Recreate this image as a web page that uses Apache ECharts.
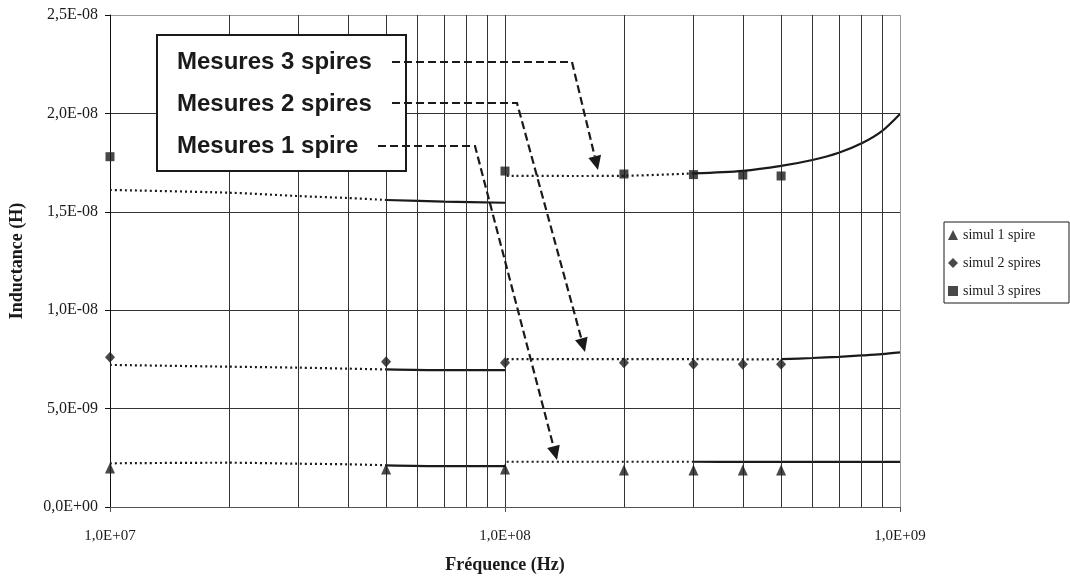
<!DOCTYPE html>
<html><head><meta charset="utf-8">
<script src="https://cdn.jsdelivr.net/npm/echarts/dist/echarts.min.js"></script>
<style>html,body{margin:0;padding:0;background:#fff}#c{width:1070px;height:586px}</style>
</head><body><div id="c"></div>
<script>
// ---- tick labels ----
const xTickValues = [1e7, 1e8, 1e9];
const xTickLabels = ['1,0E+07', '1,0E+08', '1,0E+09'];
const yTickLabels = ['0,0E+00', '5,0E-09', '1,0E-08', '1,5E-08', '2,0E-08', '2,5E-08'];
const minorGridFreqs = [2e7,3e7,4e7,5e7,6e7,7e7,8e7,9e7,1e8,2e8,3e8,4e8,5e8,6e8,7e8,8e8,9e8];

// ---- simulations (markers) ----
const simFreq  = [1e7, 5e7, 1e8, 2e8, 3e8, 4e8, 5e8];
const simul1   = [1.98e-9, 1.93e-9, 1.93e-9, 1.88e-9, 1.88e-9, 1.88e-9, 1.88e-9];
const simul2   = [7.61e-9, 7.38e-9, 7.33e-9, 7.33e-9, 7.25e-9, 7.25e-9, 7.25e-9];
const simFreq3 = [1e7, 1e8, 2e8, 3e8, 4e8, 5e8];
const simul3   = [1.780e-8, 1.707e-8, 1.692e-8, 1.689e-8, 1.687e-8, 1.682e-8];

// ---- measurements (low band 1e7..1e8, high band 1e8..1e9) ----
const loFreq   = [1e7, 2e7, 3e7, 4e7, 5e7, 7e7, 1e8];
const mes1Lo   = [2.22e-9, 2.25e-9, 2.20e-9, 2.17e-9, 2.12e-9, 2.08e-9, 2.08e-9];
const mes2Lo   = [7.22e-9, 7.13e-9, 7.08e-9, 7.03e-9, 6.99e-9, 6.95e-9, 6.95e-9];
const mes3Lo   = [1.611e-8, 1.597e-8, 1.580e-8, 1.570e-8, 1.560e-8, 1.552e-8, 1.546e-8];
const hiFreq   = [1.01e8, 1.5e8, 2e8, 3e8, 4e8, 5e8, 6e8, 7e8, 8e8, 9e8, 1e9];
const mes1Hi   = [2.30e-9, 2.30e-9, 2.30e-9, 2.30e-9, 2.29e-9, 2.29e-9, 2.29e-9, 2.29e-9, 2.29e-9, 2.29e-9, 2.29e-9];
const mes2Hi   = [7.51e-9, 7.51e-9, 7.51e-9, 7.51e-9, 7.50e-9, 7.51e-9, 7.57e-9, 7.63e-9, 7.70e-9, 7.77e-9, 7.86e-9];
const mes3Hi   = [1.683e-8, 1.682e-8, 1.683e-8, 1.695e-8, 1.708e-8, 1.733e-8, 1.763e-8, 1.800e-8, 1.848e-8, 1.910e-8, 1.997e-8];
// index where each curve turns from sparse dots to dense (solid-looking) trace
const loSplit = 4;            // 5e7
const hiSplit1 = 3, hiSplit2 = 5, hiSplit3 = 3;

const INK = '#1a1a1a';
const SERIF = '"Liberation Serif","Times New Roman",serif';
const SANS = '"Liberation Sans",Arial,sans-serif';

function pairs(fs, vs, a, b) {
  const out = [];
  for (let i = a; i <= b; i++) out.push([fs[i], vs[i]]);
  return out;
}
function measure(fs, vs, split) {
  return [
    { type: 'line', data: pairs(fs, vs, 0, split), symbol: 'none', silent: true, z: 3, smooth: 0.3,
      lineStyle: { color: INK, width: 2.2, type: [2, 3], cap: 'butt' } },
    { type: 'line', data: pairs(fs, vs, split, fs.length - 1), symbol: 'none', silent: true, z: 3, smooth: 0.3,
      lineStyle: { color: INK, width: 2.2, type: 'solid' } }
  ];
}
function leader(pts) {
  const n = pts.length, tip = pts[n - 1], prev = pts[n - 2];
  const dx = tip[0] - prev[0], dy = tip[1] - prev[1], len = Math.hypot(dx, dy);
  const ux = dx / len, uy = dy / len, hl = 14, hw = 6.5;
  const base = [tip[0] - ux * hl, tip[1] - uy * hl];
  return [
    { type: 'polyline', z: 20, shape: { points: pts.slice(0, n - 1).concat([base]) },
      style: { stroke: INK, lineWidth: 2.2, lineDash: [8, 4], fill: null } },
    { type: 'polygon', z: 20, shape: { points: [tip, [base[0] - uy * hw, base[1] + ux * hw], [base[0] + uy * hw, base[1] - ux * hw]] },
      style: { fill: INK } }
  ];
}
function label(txt, x, y) {
  return { type: 'text', z: 21, x: x, y: y,
    style: { text: txt, font: 'bold 24px ' + SANS, fill: INK, align: 'left', verticalAlign: 'middle',
             textAlign: 'left', textVerticalAlign: 'middle' } };
}

const chart = echarts.init(document.getElementById('c'), null, { renderer: 'canvas' });

const gridSeries = {
  type: 'line', data: [], silent: true,
  markLine: {
    silent: true, symbol: ['none', 'none'], label: { show: false }, animation: false,
    lineStyle: { color: '#333', width: 1, type: 'solid' },
    data: minorGridFreqs.map(f => ({ xAxis: f })).concat([{ xAxis: 1e9, lineStyle: { color: '#999', width: 1, type: 'solid' } }])
  }
};

const series = [
  { name: 'simul 1 spire', type: 'scatter', symbol: 'triangle', symbolSize: [10, 11], clip: false, z: 5,
    itemStyle: { color: INK }, data: simFreq.map((f, i) => [f, simul1[i]]) },
  { name: 'simul 2 spires', type: 'scatter', symbol: 'diamond', symbolSize: [10, 11], clip: false, z: 5,
    itemStyle: { color: INK }, data: simFreq.map((f, i) => [f, simul2[i]]) },
  { name: 'simul 3 spires', type: 'scatter', symbol: 'rect', symbolSize: 9, clip: false, z: 5,
    itemStyle: { color: INK }, data: simFreq3.map((f, i) => [f, simul3[i]]) },
  gridSeries
]
  .concat(measure(loFreq, mes1Lo, loSplit))
  .concat(measure(loFreq, mes2Lo, loSplit))
  .concat(measure(loFreq, mes3Lo, loSplit))
  .concat(measure(hiFreq, mes1Hi, hiSplit1))
  .concat(measure(hiFreq, mes2Hi, hiSplit2))
  .concat(measure(hiFreq, mes3Hi, hiSplit3));

const graphics = [
  { type: 'rect', z: 19, shape: { x: 157, y: 35, width: 249, height: 136 },
    style: { fill: '#fff', stroke: INK, lineWidth: 2 } },
  label('Mesures 3 spires', 177, 62),
  label('Mesures 2 spires', 177, 104),
  label('Mesures 1 spire', 177, 146),
  ...leader([[392, 62], [572, 62], [598, 170]]),
  ...leader([[392, 103], [517, 103], [585, 352]]),
  ...leader([[378, 146], [475, 146], [557, 460]]),
  { type: 'text', x: 17, y: 261, rotation: Math.PI / 2, z: 5,
    style: { text: 'Inductance (H)', font: 'bold 18px ' + SERIF, fill: INK, align: 'center', verticalAlign: 'middle',
             textAlign: 'center', textVerticalAlign: 'middle' } },
  { type: 'text', x: 505, y: 565, z: 5,
    style: { text: 'Fréquence (Hz)', font: 'bold 18px ' + SERIF, fill: INK, align: 'center', verticalAlign: 'middle',
             textAlign: 'center', textVerticalAlign: 'middle' } }
];

chart.setOption({
  animation: false,
  backgroundColor: '#fff',
  grid: { left: 110, right: 170, top: 15, bottom: 79, containLabel: false, outerBoundsMode: 'none' },
  legend: {
    data: ['simul 1 spire', 'simul 2 spires', 'simul 3 spires'],
    orient: 'vertical', left: 944, top: 222,
    padding: [5, 6, 4, 4], itemGap: 12, itemWidth: 10, itemHeight: 10,
    borderColor: INK, borderWidth: 1, borderRadius: 0, backgroundColor: '#fff',
    textStyle: { fontFamily: SERIF, fontSize: 14, color: INK, lineHeight: 16, width: 100 },
    selectedMode: false
  },
  xAxis: {
    type: 'log', logBase: 10, min: 1e7, max: 1e9,
    axisLine: { show: true, lineStyle: { color: '#555', width: 1 } },
    axisTick: { show: true, length: 5, inside: false, lineStyle: { color: '#555' } },
    axisLabel: { show: true, margin: 22, fontFamily: SERIF, fontSize: 15, color: INK,
      formatter: v => { const i = xTickValues.findIndex(t => Math.abs(Math.log10(t) - Math.log10(v)) < 1e-6); return i >= 0 ? xTickLabels[i] : ''; } },
    splitLine: { show: false },
    minorTick: { show: false }, minorSplitLine: { show: false }
  },
  yAxis: {
    type: 'value', min: 0, max: 2.5e-8, interval: 5e-9,
    axisLine: { show: true, lineStyle: { color: '#111', width: 1 } },
    axisTick: { show: true, length: 5, inside: false, lineStyle: { color: '#111' } },
    axisLabel: { show: true, margin: 12, fontFamily: SERIF, fontSize: 16, color: INK,
      formatter: v => yTickLabels[Math.round(v / 5e-9)] },
    splitLine: { show: true, lineStyle: { color: ['#333', '#333', '#333', '#333', '#333', '#999'], width: 1 } }
  },
  series: series,
  graphic: graphics
});
</script>
</body></html>
